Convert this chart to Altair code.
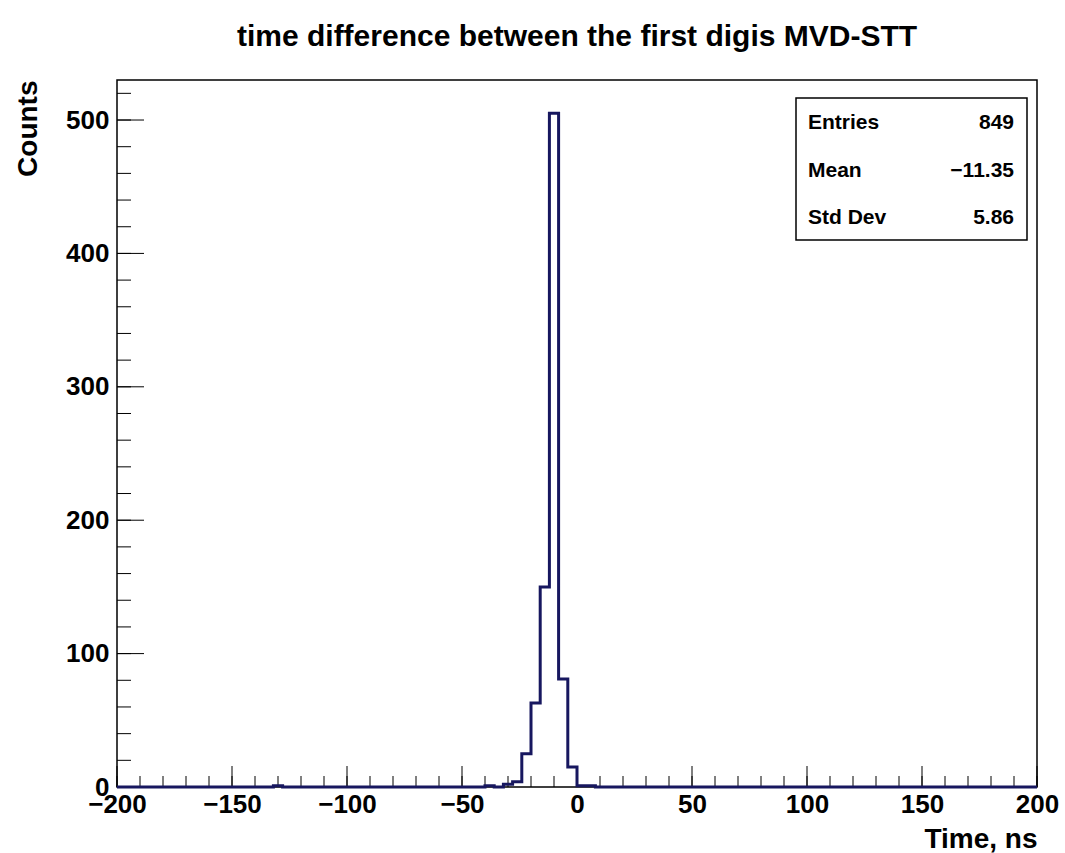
import altair as alt
import pandas as pd

# ---- data ----
bin_width = 4
x_min, x_max = -200, 200
nonzero_left = [-132, -40, -32, -28, -24, -20, -16, -12, -8, -4, 0, 4]
nonzero_count = [1, 1, 2, 4, 25, 63, 150, 505, 81, 15, 1, 1]

x_major = [-200, -150, -100, -50, 0, 50, 100, 150, 200]
x_minor = list(range(-200, 201, 10))
y_major = [0, 100, 200, 300, 400, 500]
y_minor = list(range(0, 521, 20))

stat_names = ["Entries", "Mean", "Std Dev"]
stat_values = ["849", "\u221211.35", "5.86"]

TITLE = "time difference between the first digis MVD-STT"
FONT = "Liberation Sans"
LINE = "#17175f"

# ---- build step table ----
counts = {e: c for e, c in zip(nonzero_left, nonzero_count)}
edges = list(range(x_min, x_max, bin_width))
hist = pd.DataFrame({
    "x": edges + [x_max],
    "n": [counts.get(e, 0) for e in edges] + [0],
})

W, H = 920, 707
xs = alt.Scale(domain=[x_min, x_max], nice=False, zero=False)
ys = alt.Scale(domain=[0, 530], nice=False)

line = alt.Chart(hist).mark_line(
    interpolate="step-after", color=LINE, strokeWidth=3
).encode(
    x=alt.X("x:Q", scale=xs, axis=alt.Axis(
        values=x_major, title="Time, ns", grid=False, ticks=False, tickSize=0,
        domain=False, labelFont=FONT, labelFontSize=26, labelFontWeight="bold",
        labelColor="black", labelPadding=4, labelFlush=False, format="d",
        titleFont=FONT, titleFontSize=28, titleFontWeight="bold", titleColor="black",
        titleX=W, titleY=52, titleAlign="right", titleBaseline="middle")),
    y=alt.Y("n:Q", scale=ys, axis=alt.Axis(
        values=y_major, title="Counts", grid=False, ticks=False, tickSize=0,
        domain=False, labelFont=FONT, labelFontSize=26, labelFontWeight="bold",
        labelColor="black", labelPadding=8, labelFlush=False, format="d",
        titleFont=FONT, titleFontSize=28, titleFontWeight="bold", titleColor="black",
        titleX=-89, titleY=0, titleAlign="right", titleBaseline="middle", titleAngle=270)),
)

def xticks(vals, length):
    return alt.Chart(pd.DataFrame({"t": vals})).mark_rule(color="black", strokeWidth=1).encode(
        x=alt.X("t:Q", scale=xs), y=alt.value(H), y2=alt.value(H - length))

def yticks(vals, length):
    return alt.Chart(pd.DataFrame({"t": vals})).mark_rule(color="black", strokeWidth=1).encode(
        y=alt.Y("t:Q", scale=ys), x=alt.value(0), x2=alt.value(length))

box = alt.Chart(pd.DataFrame({"a": [0]})).mark_rect(
    fill="white", stroke="black", strokeWidth=1.5
).encode(x=alt.value(679), x2=alt.value(910), y=alt.value(18), y2=alt.value(160))

stat_layers = []
for i, (nm, val) in enumerate(zip(stat_names, stat_values)):
    d = pd.DataFrame({"name": [nm], "val": [val]})
    yy = 43 + 47.5 * i
    stat_layers.append(alt.Chart(d).mark_text(
        font=FONT, fontSize=21, fontWeight="bold", align="left", baseline="middle", color="black"
    ).encode(text="name:N", x=alt.value(691), y=alt.value(yy)))
    stat_layers.append(alt.Chart(d).mark_text(
        font=FONT, fontSize=21, fontWeight="bold", align="right", baseline="middle", color="black"
    ).encode(text="val:N", x=alt.value(897), y=alt.value(yy)))

chart = alt.layer(
    xticks(x_minor, 11), xticks(x_major, 21),
    yticks(y_minor, 14), yticks(y_major, 27),
    line, box, *stat_layers
).properties(
    width=W, height=H,
    title=alt.TitleParams(TITLE, font=FONT, fontSize=30, fontWeight="bold", color="black",
                          anchor="middle", offset=4, baseline="alphabetic"),
    autosize=alt.AutoSizeParams(type="none"),
    padding={"left": 117, "top": 80, "right": 28, "bottom": 66},
    background="white",
).configure_view(stroke="black", strokeWidth=1.5)

chart.save("out.html", embed_options={"renderer": "svg", "actions": False})
